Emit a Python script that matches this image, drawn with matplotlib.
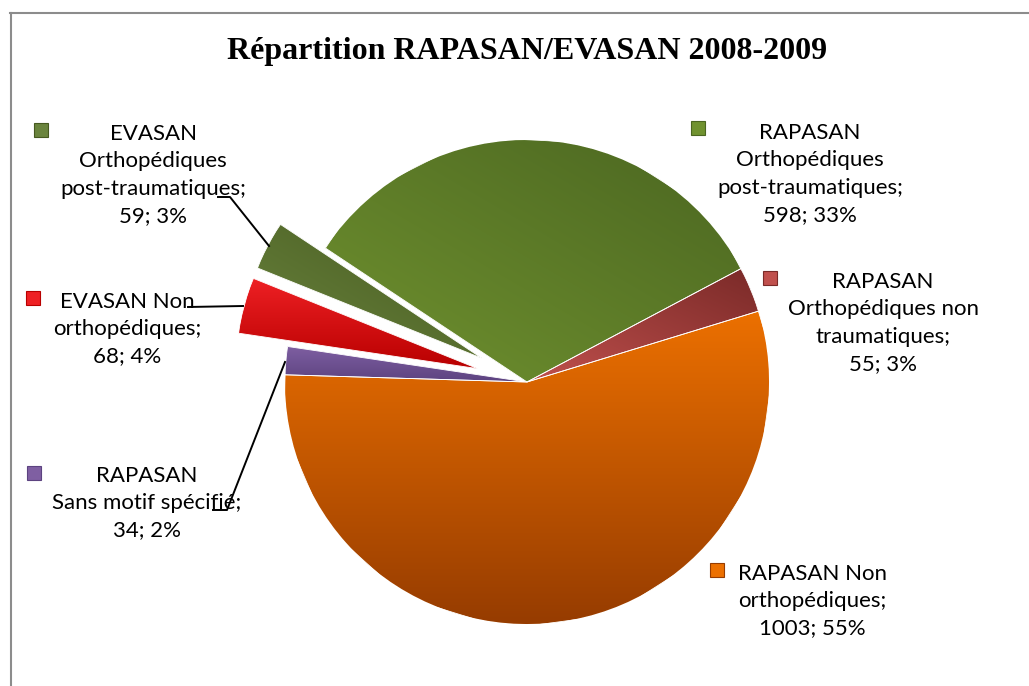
import numpy as np
import matplotlib
matplotlib.use("Agg")
import matplotlib.pyplot as plt
from matplotlib.colors import to_rgb
from matplotlib.patches import Rectangle

# données (ordre des secteurs, sens horaire depuis le haut gauche)
labels = [
    "RAPASAN\nOrthopédiques\npost-traumatiques;\n598; 33%",
    "RAPASAN\nOrthopédiques non\ntraumatiques;\n55; 3%",
    "RAPASAN Non\northopédiques;\n1003; 55%",
    "RAPASAN\nSans motif spécifié;\n34; 2%",
    "EVASAN Non\northopédiques;\n68; 4%",
    "EVASAN\nOrthopédiques\npost-traumatiques;\n59; 3%",
]
values = [598, 55, 1003, 34, 68, 59]
explode = [0, 0, 0, 0, 0.21, 0.21]
# couleurs claires / foncées pour les dégradés
light = ["#70922f", "#c0504d", "#ec7000", "#7f5fa2", "#ee2024", "#6a843d"]
dark = ["#4b6621", "#7a2a28", "#963c00", "#5c4380", "#b80000", "#465920"]
grad_angle = [45, 45, -90, -90, -90, 45]

W, H = 1029, 686
fig = plt.figure(figsize=(W / 100, H / 100), dpi=100)
ax = fig.add_axes([0, 0, 1, 1])

cx, cy, R = 527, H - 382, 242

wedges, _ = ax.pie(values, explode=[e * R for e in explode], startangle=146.4,
                   counterclock=False, center=(cx, cy), radius=R, frame=True,
                   wedgeprops=dict(edgecolor="white", linewidth=0.6))


def fill_grad(w, c1, c2, ang):
    n = 256
    u = np.linspace(-1, 1, n)
    X, Y = np.meshgrid(u, u)
    a = np.deg2rad(ang)
    t = (X * np.cos(a) + Y * np.sin(a)) / (abs(np.cos(a)) + abs(np.sin(a)))
    t = np.clip((t + 1) / 2, 0, 1)
    c1, c2 = np.array(to_rgb(c1)), np.array(to_rgb(c2))
    img = c1 + (c2 - c1) * t[..., None]
    bb = w.get_path().get_extents(w.get_patch_transform())
    im = ax.imshow(img, extent=[bb.x0, bb.x1, bb.y0, bb.y1], origin="lower",
                   aspect="auto", interpolation="bilinear", zorder=w.get_zorder() + 0.1)
    im.set_clip_path(w)


for w, c1, c2, g in zip(wedges, light, dark, grad_angle):
    w.set_facecolor(c1)
    fill_grad(w, c1, c2, g)
    ax.add_patch(plt.Polygon(w.get_path().vertices, closed=True, fill=False,
                             edgecolor="white", linewidth=0.6,
                             transform=w.get_transform(), zorder=w.get_zorder() + 0.2))

ax.set_xlim(0, W)
ax.set_ylim(0, H)
ax.set_aspect("auto")
ax.axis("off")

# étiquettes : centre du texte et position du carré de légende (pixels image)
lab_xy = [(810, 174), (883, 323), (812, 601), (147, 503), (127, 329), (153, 175)]
key_xy = [(698, 128), (770, 278), (717, 570), (34, 473), (33, 298), (41, 130)]
font = ["Lato", "DejaVu Sans"]
for txt, (lx, ly), (kx, ky), c1, c2 in zip(labels, lab_xy, key_xy, light, dark):
    ax.text(lx, H - ly, txt, ha="center", va="center", fontsize=16,
            family=font, linespacing=1.46, color="black", zorder=10)
    ax.add_patch(Rectangle((kx - 7, H - ky - 7), 14, 14, facecolor=c1,
                           edgecolor=c2, linewidth=0.8, zorder=10))

# lignes de rappel
leaders = [
    ([218, 230, 269], [197, 197, 246]),
    ([188, 243], [307, 306]),
    ([213, 227, 285], [510, 510, 362]),
]
for xs, ys in leaders:
    ax.plot(xs, [H - y for y in ys], color="black", lw=1.4, zorder=9)

# cadre (haut et gauche)
ax.plot([10, 1028], [H - 12.5, H - 12.5], color="#8c8c8c", lw=1.5, zorder=11)
ax.plot([10.5, 10.5], [0, H - 12.5], color="#8c8c8c", lw=1.5, zorder=11)

ax.text(527, H - 52, "Répartition RAPASAN/EVASAN 2008-2009", ha="center", va="center",
        fontsize=23, fontweight="bold", family="Liberation Serif", zorder=10)

fig.savefig("out.png", dpi=100, facecolor="white")
